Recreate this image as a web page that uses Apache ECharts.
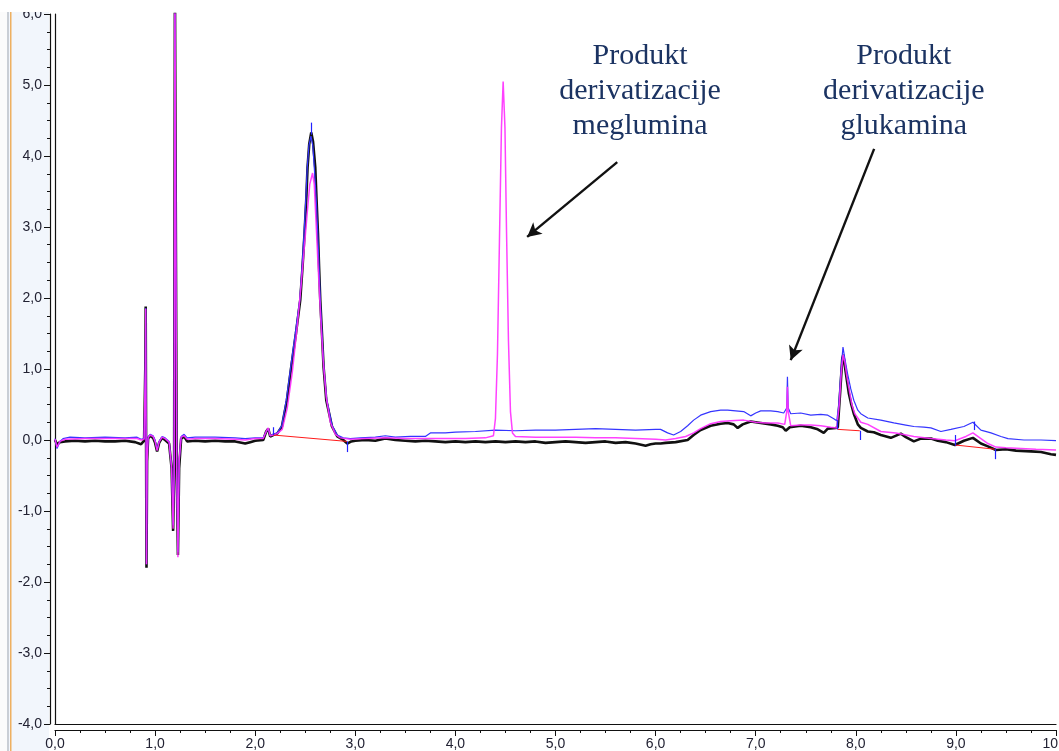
<!DOCTYPE html>
<html>
<head>
<meta charset="utf-8">
<script src="https://cdn.jsdelivr.net/npm/echarts@6/dist/echarts.min.js"></script>
<style>
html,body{margin:0;padding:0;background:#fff;overflow:hidden;}
#chart{width:1059px;height:751px;}
</style>
</head>
<body>
<div id="chart"></div>
<script>
// ---- axis settings (data space) ----
const xTicks = [0,1,2,3,4,5,6,7,8,9,10];
const yTicks = [-4,-3,-2,-1,0,1,2,3,4,5,6];

// ---- traces: [retention time, signal] ----
const blackTrace = [
[0.00,0.00],[0.02,-0.06],[0.05,-0.03],[0.1,-0.02],[0.2,-0.01],[0.3,-0.02],[0.4,-0.01],[0.5,-0.02],[0.6,-0.02],[0.7,-0.01],[0.8,-0.03],[0.86,-0.06],[0.89,-0.01],
[0.902,1.0],[0.906,1.88],[0.910,0.0],[0.914,-1.80],[0.920,-0.3],[0.93,0.02],[0.95,0.06],[0.98,0.03],[1.00,-0.04],[1.02,-0.16],[1.04,-0.04],[1.07,0.03],[1.10,0.0],[1.14,-0.05],
[1.165,-0.4],[1.18,-1.28],[1.19,-0.5],[1.198,6.5],[1.208,6.5],[1.216,-0.4],[1.228,-1.62],[1.24,-0.4],[1.26,0.02],[1.29,0.05],[1.32,-0.02],[1.4,-0.01],[1.5,-0.02],[1.6,-0.01],[1.7,-0.02],[1.8,-0.02],[1.9,-0.05],[1.95,-0.03],[2.0,-0.01],[2.08,0.0],
[2.11,0.12],[2.13,0.16],[2.15,0.05],[2.18,0.07],[2.22,0.09],[2.267,0.19],[2.317,0.56],[2.36,1.03],[2.407,1.5],[2.45,1.97],[2.473,2.44],[2.493,2.91],[2.51,3.38],[2.523,3.84],[2.54,4.17],[2.56,4.33],[2.578,4.2],[2.60,3.84],[2.613,3.38],[2.627,2.91],[2.638,2.44],[2.65,1.97],[2.667,1.5],[2.683,1.03],[2.71,0.56],[2.767,0.19],[2.82,0.05],[2.88,0.0],[2.92,-0.05],[2.96,-0.02],
[3.0,-0.01],[3.1,0.0],[3.2,-0.01],[3.3,0.02],[3.4,0.0],[3.5,-0.01],[3.6,-0.02],[3.7,-0.01],[3.8,-0.02],[3.9,-0.03],[4.0,-0.02],[4.1,-0.03],[4.2,-0.02],[4.3,-0.03],[4.4,-0.02],[4.5,-0.03],[4.6,-0.02],[4.7,-0.03],[4.8,-0.02],[4.9,-0.04],[5.0,-0.03],[5.1,-0.02],[5.2,-0.03],[5.3,-0.04],[5.4,-0.03],[5.5,-0.02],[5.6,-0.04],[5.7,-0.03],[5.8,-0.05],[5.9,-0.08],[5.95,-0.06],[6.0,-0.05],[6.05,-0.05],[6.1,-0.04],[6.2,-0.03],
[6.32,0.0],[6.38,0.07],[6.45,0.14],[6.55,0.2],[6.65,0.23],[6.72,0.24],[6.78,0.22],[6.82,0.17],[6.87,0.22],[6.95,0.26],[7.05,0.24],[7.15,0.22],[7.22,0.2],[7.27,0.18],[7.30,0.13],[7.34,0.18],[7.45,0.2],[7.55,0.18],[7.62,0.15],[7.68,0.1],[7.72,0.16],[7.80,0.17],
[7.82,0.18],[7.845,0.7],[7.865,1.15],[7.875,1.2],[7.89,1.05],[7.91,0.85],[7.93,0.66],[7.955,0.5],[7.98,0.37],[8.02,0.22],[8.05,0.17],[8.12,0.12],[8.18,0.11],[8.25,0.07],[8.35,0.03],[8.45,0.09],[8.5,0.04],[8.58,-0.02],[8.65,0.02],[8.75,0.02],[8.82,-0.01],[8.9,-0.03],[8.99,-0.07],[9.08,-0.01],[9.17,0.03],[9.25,-0.05],[9.32,-0.09],[9.40,-0.14],[9.5,-0.13],[9.6,-0.15],[9.75,-0.16],[9.85,-0.17],[9.95,-0.2],[10.0,-0.21]
];

const blueTrace = [
[0.0,0.02],[0.02,-0.12],[0.05,-0.02],[0.08,0.02],[0.15,0.04],[0.3,0.03],[0.5,0.04],[0.7,0.03],[0.82,0.04],[0.86,0.01],[0.89,0.02],
[0.902,1.0],[0.906,1.86],[0.910,0.0],[0.914,-1.75],[0.92,-0.3],[0.93,0.04],[0.95,0.08],[0.98,0.06],[1.0,0.0],[1.02,-0.14],[1.04,-0.02],[1.07,0.05],[1.10,0.03],[1.14,-0.02],
[1.165,-0.4],[1.18,-1.2],[1.19,-0.5],[1.198,6.5],[1.208,6.5],[1.216,-0.4],[1.228,-1.58],[1.24,-0.3],[1.26,0.05],[1.29,0.08],[1.32,0.03],[1.4,0.04],[1.6,0.04],[1.8,0.03],[1.9,0.02],[2.0,0.03],[2.08,0.03],
[2.11,0.12],[2.13,0.16],[2.15,0.06],[2.18,0.08],[2.22,0.1],[2.265,0.2],[2.31,0.56],[2.355,1.03],[2.40,1.5],[2.445,1.97],[2.468,2.44],[2.488,2.91],[2.505,3.38],[2.52,3.84],[2.537,4.15],[2.557,4.28],[2.575,4.15],[2.59,3.84],[2.61,3.38],[2.625,2.91],[2.638,2.44],[2.65,1.97],[2.667,1.5],[2.685,1.03],[2.715,0.56],[2.77,0.2],[2.82,0.07],[2.88,0.03],[2.95,0.02],
[3.05,0.03],[3.2,0.04],[3.3,0.06],[3.4,0.04],[3.55,0.05],[3.7,0.05],[3.75,0.1],[3.9,0.1],[4.0,0.11],[4.2,0.12],[4.4,0.14],[4.6,0.13],[4.8,0.14],[5.0,0.14],[5.2,0.15],[5.4,0.16],[5.6,0.15],[5.8,0.14],[6.0,0.15],[6.05,0.15],[6.12,0.1],[6.18,0.07],[6.25,0.12],
[6.32,0.2],[6.38,0.28],[6.45,0.35],[6.55,0.4],[6.65,0.42],[6.72,0.42],[6.8,0.41],[6.88,0.4],[6.95,0.34],[7.0,0.38],[7.05,0.41],[7.15,0.41],[7.22,0.4],[7.28,0.38],[7.31,0.45],[7.317,0.89],[7.325,0.45],[7.35,0.37],[7.45,0.38],[7.55,0.35],[7.65,0.36],[7.72,0.35],[7.78,0.3],[7.81,0.27],
[7.83,0.5],[7.85,0.95],[7.872,1.31],[7.89,1.15],[7.917,0.94],[7.95,0.72],[7.98,0.56],[8.02,0.42],[8.05,0.37],[8.12,0.31],[8.25,0.28],[8.38,0.24],[8.5,0.21],[8.58,0.19],[8.68,0.18],[8.75,0.17],[8.85,0.12],[8.95,0.15],[9.08,0.19],[9.17,0.25],[9.25,0.14],[9.35,0.1],[9.45,0.05],[9.52,0.02],[9.68,0.0],[9.85,0.0],[10.0,-0.01]
];

const magentaTrace = [
[0.0,0.01],[0.02,-0.1],[0.05,-0.02],[0.1,0.01],[0.3,0.02],[0.5,0.02],[0.7,0.02],[0.82,0.02],[0.86,0.0],[0.89,0.01],
[0.902,1.0],[0.906,1.85],[0.910,0.0],[0.914,-1.75],[0.92,-0.3],[0.93,0.03],[0.95,0.07],[0.98,0.05],[1.0,-0.02],[1.02,-0.15],[1.04,-0.03],[1.07,0.04],[1.10,0.02],[1.14,-0.03],
[1.165,-0.4],[1.18,-1.25],[1.19,-0.5],[1.198,6.5],[1.208,6.5],[1.216,-0.4],[1.228,-1.65],[1.24,-0.3],[1.26,0.04],[1.29,0.06],[1.32,0.01],[1.4,0.02],[1.6,0.02],[1.8,0.01],[1.9,0.0],[2.0,0.02],[2.08,0.02],
[2.11,0.12],[2.13,0.17],[2.15,0.06],[2.18,0.07],[2.22,0.09],[2.27,0.15],[2.32,0.45],[2.37,0.95],[2.42,1.6],[2.46,2.2],[2.49,2.7],[2.52,3.2],[2.545,3.6],[2.573,3.76],[2.59,3.6],[2.61,3.0],[2.63,2.4],[2.655,1.7],[2.68,1.1],[2.71,0.6],[2.75,0.25],[2.8,0.08],[2.85,0.03],[2.95,0.01],
[3.1,0.02],[3.3,0.03],[3.5,0.02],[3.7,0.02],[3.9,0.02],[4.1,0.02],[4.3,0.03],[4.38,0.06],[4.40,0.3],[4.42,1.2],[4.44,2.8],[4.46,4.4],[4.477,5.05],[4.495,4.4],[4.51,3.0],[4.53,1.4],[4.55,0.4],[4.57,0.1],[4.6,0.05],
[4.8,0.04],[5.0,0.04],[5.2,0.04],[5.4,0.03],[5.6,0.03],[5.8,0.02],[6.0,0.01],[6.1,0.0],[6.2,0.02],[6.3,0.05],[6.38,0.1],[6.45,0.16],[6.55,0.23],[6.65,0.26],[6.75,0.27],[6.88,0.28],[7.0,0.25],[7.1,0.24],[7.22,0.24],[7.29,0.22],[7.31,0.4],[7.317,0.75],[7.325,0.4],[7.35,0.2],[7.45,0.21],[7.55,0.21],[7.65,0.2],[7.75,0.18],[7.81,0.17],
[7.835,0.5],[7.855,0.95],[7.873,1.2],[7.89,1.1],[7.91,0.9],[7.935,0.7],[7.96,0.5],[7.99,0.37],[8.05,0.25],[8.12,0.22],[8.25,0.12],[8.4,0.1],[8.58,0.05],[8.75,0.02],[8.9,0.0],[8.99,-0.01],[9.1,0.05],[9.17,0.1],[9.25,0.02],[9.32,-0.05],[9.4,-0.1],[9.5,-0.11],[9.65,-0.12],[9.8,-0.13],[10.0,-0.14]
];

// integration baselines (red): [start, end]
const baselineSegments = [
  [[2.18,0.07],[2.917,-0.02]],
  [[7.817,0.15],[8.04,0.13]],
  [[8.99,-0.07],[9.39,-0.13]]
];
// peak markers (short blue ticks): [x, yFrom, yTo]
const peakMarkers = [
  [2.18,0.07,0.18],[2.56,4.30,4.47],[2.917,-0.02,-0.17],
  [7.817,0.15,0.28],[8.04,0.13,0.0],[8.99,0.07,-0.08],[9.18,0.26,0.14],[9.39,-0.12,-0.27]
];
// annotations: text and arrows (data coordinates)
const annotationTexts = [
  {text:'Produkt\nderivatizacije\nmeglumina', at:[5.845,4.92]},
  {text:'Produkt\nderivatizacije\nglukamina', at:[8.48,4.92]}
];
const annotationArrows = [
  [[5.617,3.914],[4.717,2.86]],
  [[8.183,4.10],[7.35,1.125]]
];

const fmt = v => v.toFixed(1).replace('.', ',');

const chart = echarts.init(document.getElementById('chart'), null, {renderer:'canvas'});
const labelFont = {fontFamily:'Liberation Sans, Arial, sans-serif', fontSize:14, color:'#222233'};

const option = {
  animation:false,
  backgroundColor:'#ffffff',
  grid:{left:55, right:3, top:14, bottom:27, containLabel:false, outerBoundsMode:'none'},
  xAxis:[{
    type:'value', min:xTicks[0], max:xTicks[xTicks.length-1], interval:1, position:'bottom', offset:6,
    axisLine:{show:true, onZero:false, lineStyle:{color:'#111', width:1.2}},
    axisTick:{show:true, length:6, lineStyle:{color:'#111'}},
    minorTick:{show:true, splitNumber:4, length:3, lineStyle:{color:'#111'}},
    splitLine:{show:false},
    axisLabel:Object.assign({formatter:fmt, margin:7, hideOverlap:false}, labelFont)
  },{
    type:'value', min:xTicks[0], max:xTicks[xTicks.length-1], position:'bottom', offset:0,
    axisLine:{show:true, onZero:false, lineStyle:{color:'#111', width:1.2}},
    axisTick:{show:false}, axisLabel:{show:false}, splitLine:{show:false}
  }],
  yAxis:[{
    type:'value', min:yTicks[0], max:yTicks[yTicks.length-1], interval:1, position:'left', offset:5,
    axisLine:{show:true, onZero:false, lineStyle:{color:'#111', width:1.2}},
    axisTick:{show:true, length:6, lineStyle:{color:'#111'}},
    minorTick:{show:true, splitNumber:4, length:3, lineStyle:{color:'#111'}},
    splitLine:{show:false},
    axisLabel:Object.assign({formatter:fmt, margin:8}, labelFont)
  },{
    type:'value', min:yTicks[0], max:yTicks[yTicks.length-1], position:'left', offset:0,
    axisLine:{show:true, onZero:false, lineStyle:{color:'#111', width:1.2}},
    axisTick:{show:false}, axisLabel:{show:false}, splitLine:{show:false}
  }],
  graphic:[
    {type:'rect', z:-10, shape:{x:0,y:0,width:49,height:751}, style:{fill:'#f2f6fc'}},
    {type:'rect', z:-9, shape:{x:0,y:0,width:7,height:751}, style:{fill:'#fbfbfb'}},
    {type:'rect', z:-9, shape:{x:7,y:0,width:2,height:751}, style:{fill:'#c9ced5'}},
    {type:'rect', z:-9, shape:{x:10,y:0,width:1.5,height:751}, style:{fill:'#eeb061'}},
    {type:'rect', z:100, zlevel:1, shape:{x:0,y:0,width:1059,height:12}, style:{fill:'#ffffff'}}
  ],
  series:[
    {
      name:'baselines', type:'line', data:[], z:1, silent:true,
      markLine:{silent:true, symbol:['none','none'], label:{show:false},
        lineStyle:{color:'#ff1a1a', width:1, type:'solid'},
        data: baselineSegments.map(s => [{coord:s[0]},{coord:s[1]}])}
    },
    {
      name:'black', type:'line', data:blackTrace, showSymbol:false, z:2,
      lineStyle:{color:'#111111', width:2.6}, silent:true
    },
    {
      name:'blue', type:'line', data:blueTrace, showSymbol:false, z:3,
      lineStyle:{color:'#3535ff', width:1.2}, silent:true,
      markLine:{silent:true, symbol:['none','none'], label:{show:false},
        lineStyle:{color:'#2222ff', width:1.2, type:'solid'},
        data: peakMarkers.map(m => [{coord:[m[0],m[1]]},{coord:[m[0],m[2]]}])}
    },
    {
      name:'magenta', type:'line', data:magentaTrace, showSymbol:false, z:4,
      lineStyle:{color:'#ff2cff', width:1.5, opacity:0.9}, silent:true
    },
    {
      name:'annotations', type:'line', data:[], z:5, silent:true,
      markLine:{silent:true, symbol:['none','arrow'], symbolSize:[11,14], label:{show:false},
        lineStyle:{color:'#111111', width:2.4, type:'solid'},
        data: annotationArrows.map(a => [{coord:a[0]},{coord:a[1]}])},
      markPoint:{silent:true, symbol:'circle', symbolSize:0,
        data: annotationTexts.map(t => ({coord:t.at, value:0,
          label:{show:true, position:'inside', formatter:t.text, fontFamily:'Liberation Serif, Times New Roman, serif',
            fontSize:30, lineHeight:35, color:'#1b3362', align:'center', verticalAlign:'middle'}}))}
    }
  ]
};
chart.setOption(option);
</script>
</body>
</html>
